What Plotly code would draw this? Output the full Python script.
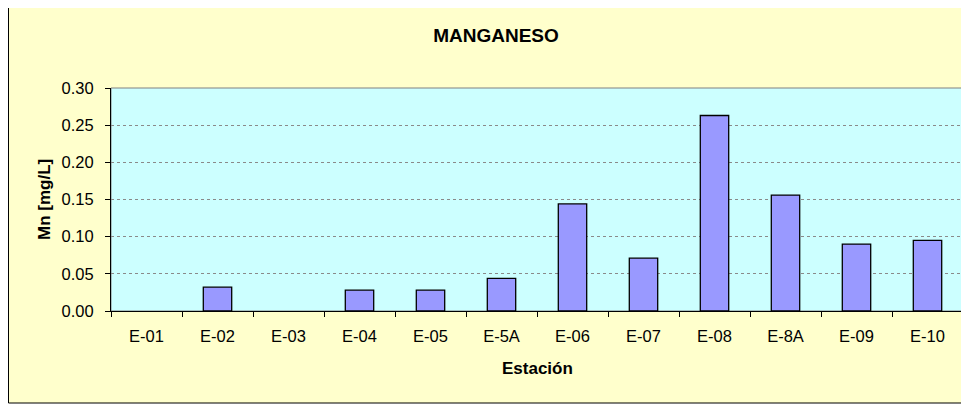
import plotly.graph_objects as go

estaciones = ["E-01", "E-02", "E-03", "E-04", "E-05", "E-5A", "E-06", "E-07", "E-08", "E-8A", "E-09", "E-10"]
manganeso = [None, 0.032, None, 0.028, 0.028, 0.044, 0.144, 0.071, 0.263, 0.156, 0.090, 0.095]
y_ticks = [0.00, 0.05, 0.10, 0.15, 0.20, 0.25, 0.30]

# page body has 8px default margin; figure coordinates = page - 8
W, H = 961, 396
L, R, T, B = 103, 6, 80, 93
pw, ph = W - L - R, H - T - B

def px_x(v):
    return (v - L) / pw

def px_y(v):
    return 1 - (v - T) / ph

font = "Liberation Sans, Arial, sans-serif"

fig = go.Figure()
fig.add_trace(go.Bar(
    x=estaciones, y=manganeso,
    marker=dict(color="#9999FF", line=dict(color="#000000", width=1.3)),
    width=0.4,
    hoverinfo="x+y",
))

fig.update_layout(
    width=W, height=H,
    margin=dict(l=L, r=R, t=T, b=B),
    paper_bgcolor="#FFFFFF",
    plot_bgcolor="rgba(0,0,0,0)",
    showlegend=False,
    font=dict(family=font, size=16, color="#000000"),
    title=dict(text="<b>MANGANESO</b>", x=488 / W, xanchor="center",
               y=1 - 27.5 / H, yanchor="middle", font=dict(size=19, family=font)),
    shapes=[
        dict(type="rect", xref="paper", yref="paper", layer="below",
             x0=px_x(0.5), x1=px_x(W + 20), y0=px_y(395), y1=px_y(-10),
             fillcolor="#FFFFCC", line=dict(color="#000000", width=1)),
        dict(type="rect", xref="paper", yref="paper", layer="below",
             x0=0, x1=1, y0=0, y1=1,
             fillcolor="#CCFFFF", line=dict(color="#808080", width=1)),
    ],
    annotations=[
        dict(text="<b>Mn [mg/L]</b>", xref="paper", yref="paper",
             x=px_x(36.5), y=0.5, xanchor="center", yanchor="middle",
             textangle=-90, showarrow=False, font=dict(size=17, family=font)),
        dict(text="<b>Estación</b>", xref="paper", yref="paper",
             x=0.5, y=px_y(360), xanchor="center", yanchor="middle",
             showarrow=False, font=dict(size=17, family=font)),
    ],
    xaxis=dict(
        type="category",
        showline=True, linecolor="#000000", linewidth=1,
        ticks="outside", ticklen=5, tickcolor="#000000", tickson="boundaries",
        showgrid=False,
        tickfont=dict(size=16.5, family=font),
        ticklabelstandoff=10,
    ),
    yaxis=dict(
        range=[0, 0.30],
        tickvals=y_ticks, tickformat=".2f",
        showline=True, linecolor="#000000", linewidth=1,
        ticks="outside", ticklen=5, tickcolor="#000000",
        showgrid=True, gridcolor="#8A8A8A", griddash="dot", gridwidth=1,
        zeroline=False,
        tickfont=dict(size=16.5, family=font),
        ticklabelstandoff=8,
    ),
)

fig.write_html("out.html")
